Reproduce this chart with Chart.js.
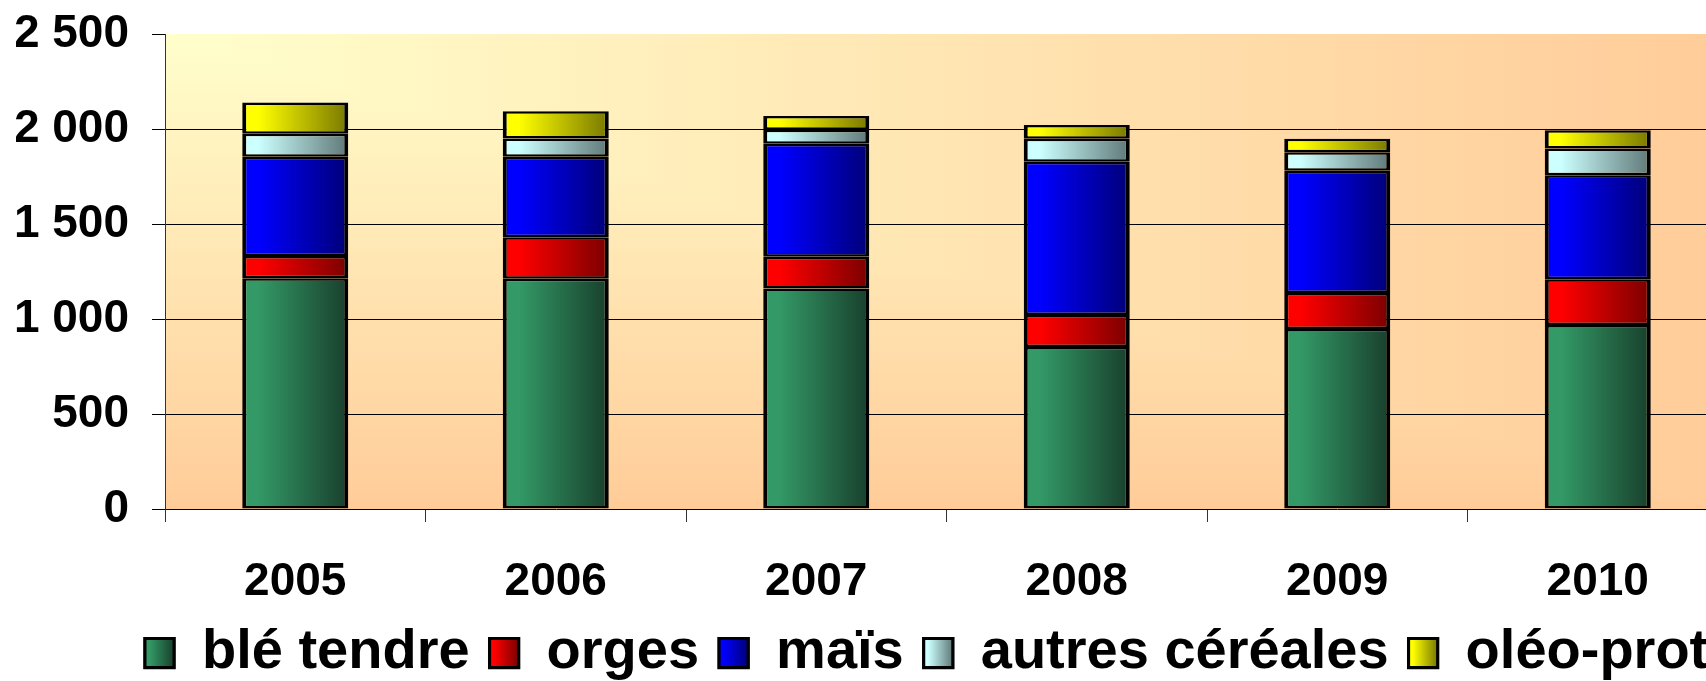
<!DOCTYPE html>
<html>
<head>
<meta charset="utf-8">
<script src="https://cdn.jsdelivr.net/npm/chart.js@4/dist/chart.umd.min.js"></script>
<style>
  html, body { margin: 0; padding: 0; background: #fff; overflow: hidden; }
  #wrap { width: 1740px; height: 700px; position: relative; }
</style>
</head>
<body>
<div id="wrap"><canvas id="c"></canvas></div>
<script>
// ---- data ----
const categories = ['2005', '2006', '2007', '2008', '2009', '2010'];
const bleTendre = [1214, 1212, 1161, 852, 947, 968];
const orges     = [117, 218, 167, 169, 190, 241];
const mais      = [523, 424, 594, 807, 643, 547];
const autresCereales = [121, 96, 74, 121, 97, 142];
const oleoProt  = [165, 143, 72, 72, 72, 96];
const seriesNames = ['blé tendre', 'orges', 'maïs', 'autres céréales', 'oléo-prot.'];
const yTickValues = [0, 500, 1000, 1500, 2000, 2500];
const yTickLabels = ['0', '500', '1 000', '1 500', '2 000', '2 500'];

// ---- styles ----
const FONT = "'Liberation Sans', Arial, sans-serif";
const BAR_PCT = 0.407;
const LEGEND_LEFT = 125;
const colors = [
  ['#339966', '#183f2c'],
  ['#ff0000', '#7a0000'],
  ['#0000ff', '#000078'],
  ['#ccffff', '#607878'],
  ['#ffff00', '#787800']
];

function barGradient(ctx, idx) {
  const chart = ctx.chart;
  const ca = chart.chartArea;
  const [base, dark] = colors[idx];
  if (!ca || !chart.scales.x || ctx.dataIndex === undefined) return base;
  const cx = chart.scales.x.getPixelForValue(ctx.dataIndex);
  const w = (ca.right - ca.left) / categories.length * BAR_PCT;
  const g = chart.ctx.createLinearGradient(cx - w / 2, 0, cx + w / 2, 0);
  g.addColorStop(0, base);
  g.addColorStop(0.15, base);
  g.addColorStop(1, dark);
  return g;
}

const seriesData = [bleTendre, orges, mais, autresCereales, oleoProt];
const datasets = seriesData.map((d, i) => ({
  label: seriesNames[i],
  data: d,
  backgroundColor: (ctx) => barGradient(ctx, i),
  borderColor: '#000',
  borderWidth: { top: 2.5, bottom: 2.5, left: 4, right: 4 },
  borderSkipped: false,
  barPercentage: BAR_PCT,
  categoryPercentage: 1.0
}));

const plotBg = {
  id: 'plotBg',
  beforeDraw(chart) {
    const { ctx, chartArea: a } = chart;
    const c0 = '#ffffcc', c1 = '#ffcc99';
    ctx.save();
    let g = ctx.createLinearGradient(0, a.top, 0, a.bottom);
    g.addColorStop(0, c0); g.addColorStop(1, c1);
    ctx.fillStyle = g;
    ctx.fillRect(a.left, a.top, a.right - a.left, a.bottom - a.top);
    g = ctx.createLinearGradient(a.left, 0, a.right, 0);
    g.addColorStop(0, c0); g.addColorStop(1, c1);
    ctx.beginPath();
    ctx.moveTo(a.left, a.top); ctx.lineTo(a.right, a.top); ctx.lineTo(a.right, a.bottom); ctx.closePath();
    ctx.fillStyle = g; ctx.fill();
    ctx.restore();
  }
};

const legendShift = {
  id: 'legendShift',
  afterLayout(chart) {
    const lg = chart.legend;
    if (!lg) return;
    const w = lg.right - lg.left;
    lg.left = LEGEND_LEFT;
    lg.right = LEGEND_LEFT + w;
  }
};

const legendBoxes = {
  id: 'legendBoxes',
  afterDraw(chart) {
    const lg = chart.legend;
    if (!lg || !lg.legendHitBoxes) return;
    const opts = lg.options.labels;
    const fs = opts.font.size, bw = opts.boxWidth, bh = opts.boxHeight;
    const ctx = chart.ctx;
    ctx.save();
    lg.legendHitBoxes.forEach((hb, i) => {
      const x = hb.left, y = hb.top + Math.max((fs - bh) / 2, 0);
      const [base, dark] = colors[i];
      const g = ctx.createLinearGradient(x, 0, x + bw, 0);
      g.addColorStop(0, base); g.addColorStop(0.15, base); g.addColorStop(1, dark);
      ctx.fillStyle = g;
      ctx.fillRect(x, y, bw, bh);
      ctx.lineWidth = 3;
      ctx.strokeStyle = '#000';
      ctx.strokeRect(x, y, bw, bh);
    });
    ctx.restore();
  }
};

new Chart(document.getElementById('c'), {
  type: 'bar',
  data: { labels: categories, datasets },
  plugins: [plotBg, legendShift, legendBoxes],
  options: {
    responsive: true,
    maintainAspectRatio: false,
    animation: false,
    layout: { padding: { left: 16, right: 12, top: 34, bottom: 9 } },
    plugins: {
      tooltip: { enabled: false },
      legend: {
        position: 'bottom',
        fullSize: true,
        align: 'start',
        labels: {
          boxWidth: 29,
          boxHeight: 29,
          padding: 20,
          color: '#000',
          font: { family: FONT, size: 56, weight: 'bold' }
        }
      }
    },
    scales: {
      x: {
        stacked: true,
        afterFit: (s) => { s.height = 96; s.paddingLeft = 0; s.paddingRight = 0; },
        grid: { drawOnChartArea: false, drawTicks: true, tickLength: 13, tickColor: '#333', color: '#333' },
        border: { display: false },
        ticks: { color: '#000', padding: 33, maxRotation: 0, font: { family: FONT, size: 46, weight: 'bold' } }
      },
      y: {
        stacked: true,
        min: 0,
        max: 2500,
        afterFit: (s) => { s.width = 149; s.paddingTop = 0; s.paddingBottom = 0; },
        afterBuildTicks: (s) => { s.ticks = yTickValues.map(v => ({ value: v })); },
        ticks: {
          color: '#000',
          padding: 23,
          font: { family: FONT, size: 46, weight: 'bold', lineHeight: 1 },
          callback: (v) => yTickLabels[yTickValues.indexOf(v)]
        },
        grid: {
          color: (c) => (c.tick && c.tick.value === 2500) ? 'rgba(0,0,0,0)' : '#000',
          tickColor: '#000',
          lineWidth: 1,
          tickLength: 13
        },
        border: { display: true, color: '#333', width: 1 }
      }
    }
  }
});
</script>
</body>
</html>
